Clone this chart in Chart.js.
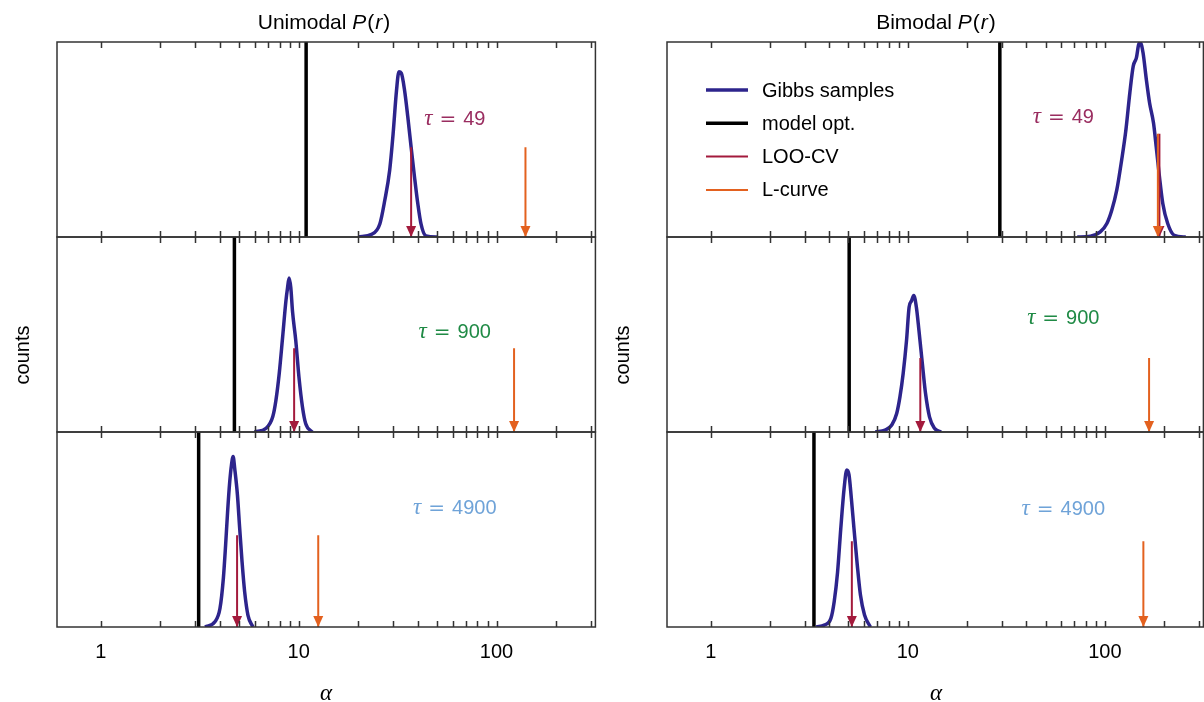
<!DOCTYPE html>
<html>
<head>
<meta charset="utf-8">
<script src="https://cdn.jsdelivr.net/npm/chart.js@4.4.1/dist/chart.umd.min.js"></script>
<style>
  html, body { margin: 0; padding: 0; background: #fff; overflow: hidden; }
  #wrap { position: relative; width: 1204px; height: 702px; overflow: hidden; }
  canvas { position: absolute; top: 0; }
</style>
</head>
<body>
<div id="wrap">
  <canvas id="uniChart" width="604" height="702" style="left:0"></canvas>
  <canvas id="biChart" width="608" height="702" style="left:604px"></canvas>
</div>
<script>
const TAU_LABELS = ['49', '900', '4900'];
const TAU_COLORS = ['#9a2d60', '#1f8a45', '#6fa3d8'];
const X_TICKS = [1, 2, 3, 4, 5, 6, 7, 8, 9, 10, 20, 30, 40, 50, 60, 70, 80, 90, 100, 200, 300];
const X_LABELS = [1, 10, 100];
const X_MIN = 0.624;
const X_MAX = 316;
const LABEL_ALPHA = 61.5;

// Unimodal P(r): Gibbs sample histograms of alpha
const uniAlpha49 = [20.0, 23.4, 25.7, 27.2, 28.8, 30.0, 31.2, 32.1, 33.0, 34.3, 35.6, 37.0, 38.5, 40.0, 41.5, 44.0, 50.1];
const uniCounts49 = [0, 1.4, 6.7, 18.6, 34, 53, 75, 84.7, 84, 75, 61.5, 46, 30.6, 17, 6.7, 0.5, 0];
const uniAlpha900 = [5.98, 6.84, 7.39, 7.67, 7.97, 8.29, 8.61, 8.78, 8.94, 9.12, 9.30, 9.66, 10.03, 10.44, 10.84, 11.71];
const uniCounts900 = [0, 1.9, 7.8, 16.3, 30, 48.6, 67, 74, 79, 74, 62, 47, 28, 13, 4.4, 0];
const uniAlpha4900 = [3.36, 3.77, 4.00, 4.16, 4.27, 4.37, 4.48, 4.57, 4.66, 4.75, 4.90, 5.03, 5.17, 5.33, 5.54, 5.87];
const uniCounts4900 = [0, 2.7, 9.6, 25, 42, 59, 74.5, 83, 87.5, 81, 67.7, 50.6, 33.5, 18, 6, 0];
const uniModelOpt = [10.9, 4.73, 3.12];
const uniLooCv = [37.0, 9.48, 4.88];
const uniLCurve = [140, 122.6, 12.55];
const uniArrowTop = [46, 43, 47];
const uniLabelY = [61, 52, 61.5];

// Bimodal P(r)
const biAlpha49 = [72.4, 84.4, 94.7, 102.3, 108.4, 114.8, 121.6, 127.8, 133.8, 139.2, 144.5, 148.4, 151.4, 156.1, 162.2, 168.5, 176.4, 182, 189, 196.6, 208.2, 224.7, 257];
const biCounts49 = [0, 0.4, 2.6, 6.9, 13.8, 24, 39.5, 55, 74, 87.6, 92, 98.8, 99.6, 94.5, 80.8, 68.7, 58.4, 46.4, 31, 17.2, 6.9, 0.9, 0];
const biAlpha900 = [6.84, 7.67, 8.29, 8.78, 9.12, 9.47, 9.85, 10.15, 10.44, 10.72, 11.05, 11.39, 11.85, 12.30, 12.88, 13.65, 14.74];
const biCounts900 = [0, 1, 3.6, 9.5, 18, 30, 47, 64, 67.3, 70, 64, 52, 35, 19.7, 7.8, 1.9, 0];
const biAlpha4900 = [3.43, 3.77, 4.07, 4.23, 4.40, 4.57, 4.75, 4.90, 5.03, 5.17, 5.33, 5.54, 5.75, 6.03, 6.46];
const biCounts4900 = [0, 1, 4.4, 13, 28, 50.6, 71, 80.5, 78, 66, 50.6, 31.8, 16.4, 6.2, 0];
const biModelOpt = [29.3, 5.04, 3.34];
const biLooCv = [189, 11.57, 5.2];
const biLCurve = [185.6, 167.5, 156.7];
const biArrowTop = [53, 38, 44];
const biLabelY = [62, 59, 61];

const BLUE = '#2d248c';
const RED = '#a31a3c';
const ORANGE = '#e3611f';
const FRAME = '#333333';
const ROW_AXES = ['y0', 'y1', 'y2'];

function drawParts(ctx, parts, cx, baseline, color) {
  let w = 0;
  parts.forEach(p => { ctx.font = p.f; p.w = ctx.measureText(p.t).width; w += p.w + (p.g || 0); });
  let x = cx - w / 2;
  ctx.fillStyle = color;
  ctx.textAlign = 'left';
  ctx.textBaseline = 'alphabetic';
  parts.forEach(p => { ctx.font = p.f; ctx.fillText(p.t, x, baseline); x += p.w + (p.g || 0); });
}

function makeChart(id, panel) {
  const datasets = [];
  panel.lCurve.forEach((a, i) => datasets.push({
    data: [{x: a, y: panel.arrowTop[i]}, {x: a, y: 0}], yAxisID: ROW_AXES[i],
    borderColor: ORANGE, borderWidth: 2, pointRadius: 0, arrowHead: ORANGE
  }));
  panel.looCv.forEach((a, i) => datasets.push({
    data: [{x: a, y: panel.arrowTop[i]}, {x: a, y: 0}], yAxisID: ROW_AXES[i],
    borderColor: RED, borderWidth: 2, pointRadius: 0, arrowHead: RED
  }));
  panel.alphas.forEach((al, i) => datasets.push({
    data: al.map((a, k) => ({x: a, y: panel.counts[i][k]})), yAxisID: ROW_AXES[i],
    borderColor: BLUE, borderWidth: 3.5, pointRadius: 0,
    cubicInterpolationMode: 'monotone', borderJoinStyle: 'round'
  }));
  panel.modelOpt.forEach((a, i) => datasets.push({
    data: [{x: a, y: 0}, {x: a, y: 100}], yAxisID: ROW_AXES[i],
    borderColor: '#000', borderWidth: 3.5, pointRadius: 0
  }));

  const rowScale = (w) => ({
    type: 'linear', position: 'left', stack: 'rows', weight: w, min: 0, max: 100, display: false
  });

  const decor = {
    id: 'decor',
    afterDatasetsDraw(chart) {
      const ctx = chart.ctx;
      const xs = chart.scales.x;
      // arrow heads, red first so orange lands on top
      for (let d = chart.data.datasets.length - 1; d >= 0; d--) {
        const ds = chart.data.datasets[d];
        if (!ds.arrowHead) continue;
        const tip = chart.getDatasetMeta(d).data[1];
        ctx.save();
        ctx.fillStyle = ds.arrowHead;
        ctx.beginPath();
        ctx.moveTo(tip.x, tip.y);
        ctx.lineTo(tip.x - 5, tip.y - 11);
        ctx.lineTo(tip.x + 5, tip.y - 11);
        ctx.closePath();
        ctx.fill();
        ctx.restore();
      }
      // frames and inward ticks
      ctx.save();
      ctx.strokeStyle = FRAME;
      ctx.lineWidth = 1.5;
      ROW_AXES.forEach(id => {
        const ys = chart.scales[id];
        ctx.strokeRect(xs.left, ys.top, xs.right - xs.left, ys.bottom - ys.top);
        ctx.beginPath();
        X_TICKS.forEach(v => {
          const px = Math.round(xs.getPixelForValue(v)) + 0.5;
          ctx.moveTo(px, ys.top); ctx.lineTo(px, ys.top + 6);
          ctx.moveTo(px, ys.bottom); ctx.lineTo(px, ys.bottom - 6);
        });
        ctx.stroke();
      });
      ctx.restore();
    },
    afterDraw(chart) {
      const ctx = chart.ctx;
      const xs = chart.scales.x;
      ctx.save();
      // tau labels
      ROW_AXES.forEach((id, i) => {
        const ys = chart.scales[id];
        drawParts(ctx, [
          {t: 'τ', f: 'italic 23px "Liberation Serif"', g: 7},
          {t: '=', f: '20px "DejaVu Sans"', g: 7},
          {t: TAU_LABELS[i], f: '20px "Liberation Sans"'}
        ], xs.getPixelForValue(LABEL_ALPHA), ys.getPixelForValue(panel.labelY[i]) + 7, TAU_COLORS[i]);
      });
      // title
      drawParts(ctx, [
        {t: panel.title + ' ', f: '21px "Liberation Sans"'},
        {t: 'P', f: 'italic 21px "Liberation Sans"', g: 1},
        {t: '(', f: '21px "Liberation Sans"', g: 1},
        {t: 'r', f: 'italic 21px "Liberation Sans"', g: 1},
        {t: ')', f: '21px "Liberation Sans"'}
      ], panel.titleX, 29, '#000');
      // x label
      drawParts(ctx, [{t: 'α', f: 'italic 23px "Liberation Serif"'}], panel.alphaX, 700, '#000');
      // y label
      ctx.translate(panel.countsX, 355);
      ctx.rotate(-Math.PI / 2);
      drawParts(ctx, [{t: 'counts', f: '20px "Liberation Sans"'}], 0, 7, '#000');
      ctx.restore();

      if (panel.legend) {
        const items = [
          ['Gibbs samples', BLUE, 3.5],
          ['model opt.', '#000', 3.5],
          ['LOO-CV', RED, 2],
          ['L-curve', ORANGE, 2]
        ];
        ctx.save();
        items.forEach((it, k) => {
          const y = chart.chartArea.top + 48 + k * 33.3;
          ctx.strokeStyle = it[1];
          ctx.lineWidth = it[2];
          ctx.beginPath();
          ctx.moveTo(chart.chartArea.left + 39, y);
          ctx.lineTo(chart.chartArea.left + 81, y);
          ctx.stroke();
          ctx.fillStyle = '#000';
          ctx.font = '20px "Liberation Sans"';
          ctx.textAlign = 'left';
          ctx.textBaseline = 'middle';
          ctx.fillText(it[0], chart.chartArea.left + 95, y + 1);
        });
        ctx.restore();
      }
    }
  };

  return new Chart(document.getElementById(id), {
    type: 'line',
    data: { datasets },
    options: {
      responsive: false,
      animation: false,
      devicePixelRatio: 1,
      layout: { padding: { left: panel.padLeft, right: panel.padRight, top: 42, bottom: 0 } },
      plugins: { legend: { display: false }, tooltip: { enabled: false }, title: { display: false } },
      scales: {
        x: {
          type: 'logarithmic', position: 'bottom', min: X_MIN, max: X_MAX,
          afterBuildTicks: s => { s.ticks = X_TICKS.map(v => ({ value: v })); },
          afterFit: s => { s.height = 75; },
          grid: { display: false, drawTicks: false },
          border: { display: false },
          ticks: {
            autoSkip: false, maxRotation: 0, padding: 13, color: '#000',
            font: { family: 'Liberation Sans', size: 20 },
            callback: v => X_LABELS.includes(v) ? String(v) : ''
          }
        },
        y0: rowScale(3),
        y1: rowScale(2),
        y2: rowScale(1)
      }
    },
    plugins: [decor]
  });
}

makeChart('uniChart', {
  title: 'Unimodal', alphas: [uniAlpha49, uniAlpha900, uniAlpha4900],
  counts: [uniCounts49, uniCounts900, uniCounts4900],
  modelOpt: uniModelOpt, looCv: uniLooCv, lCurve: uniLCurve,
  arrowTop: uniArrowTop, labelY: uniLabelY, legend: false,
  padLeft: 57, padRight: 6, titleX: 324, alphaX: 326, countsX: 22
});

makeChart('biChart', {
  title: 'Bimodal', alphas: [biAlpha49, biAlpha900, biAlpha4900],
  counts: [biCounts49, biCounts900, biCounts4900],
  modelOpt: biModelOpt, looCv: biLooCv, lCurve: biLCurve,
  arrowTop: biArrowTop, labelY: biLabelY, legend: true,
  padLeft: 63, padRight: 4, titleX: 332, alphaX: 332, countsX: 18
});
</script>
</body>
</html>
